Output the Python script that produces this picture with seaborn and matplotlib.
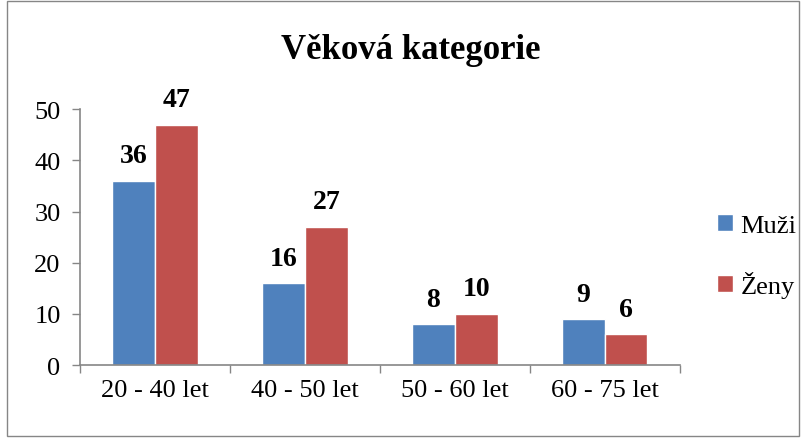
import pandas as pd
import matplotlib.pyplot as plt
import seaborn as sns
from matplotlib.patches import Rectangle

categories = ["20 - 40 let", "40 - 50 let", "50 - 60 let", "60 - 75 let"]
muzi = [36, 16, 8, 9]
zeny = [47, 27, 10, 6]
series_names = ["Muži", "Ženy"]

df = pd.DataFrame({
    "kategorie": categories * 2,
    "pohlavi": [series_names[0]] * 4 + [series_names[1]] * 4,
    "pocet": muzi + zeny,
})

sns.set_style("white")
plt.rcParams["font.family"] = ["Liberation Serif", "DejaVu Serif"]
plt.rcParams["text.color"] = "black"

fig = plt.figure(figsize=(8.06, 4.39), dpi=100)
ax = fig.add_axes([0.0993, 0.166, 0.744, 0.583])

sns.barplot(data=df, x="kategorie", y="pocet", hue="pohlavi",
            palette=["#4F81BD", "#C0504D"], width=0.57, saturation=1,
            ax=ax, legend=True)

for cont in ax.containers:
    ax.bar_label(cont, fontsize=20, fontweight="bold", padding=9, color="black")

ax.set_ylim(0, 50)
ax.set_xlim(-0.5, 3.5)
ax.set_yticks(range(0, 51, 10))
ax.set_xlabel("")
ax.set_ylabel("")
ax.tick_params(axis="both", labelsize=19, colors="black", width=1, color="#868686")
ax.tick_params(axis="x", length=0, pad=10)
ax.set_xticks([-0.5, 0.5, 1.5, 2.5, 3.5], minor=True)
ax.tick_params(axis="x", which="minor", bottom=True, length=6, width=1,
               color="#868686", direction="out")
ax.tick_params(axis="y", left=True, length=6, direction="out", pad=8)
for s in ["top", "right"]:
    ax.spines[s].set_visible(False)
for s in ["left", "bottom"]:
    ax.spines[s].set_color("#868686")
    ax.spines[s].set_linewidth(1.2)

ax.set_title("")
fig.text(0.509, 0.885, "Věková kategorie", ha="center", va="center",
         fontsize=25, fontweight="bold", color="black")

handles, labels = ax.get_legend_handles_labels()
ax.legend_.remove()
fig.legend(handles, labels, loc="center left", bbox_to_anchor=(0.86, 0.415),
           frameon=False, fontsize=19, handlelength=0.6, handleheight=0.6,
           handletextpad=0.3, labelspacing=1.3, labelcolor="black")

fig.patches.append(Rectangle((0.009, 0.005), 0.982, 0.99, transform=fig.transFigure,
                             fill=False, edgecolor="#868686", linewidth=1))

fig.savefig("out.png", dpi=100)
